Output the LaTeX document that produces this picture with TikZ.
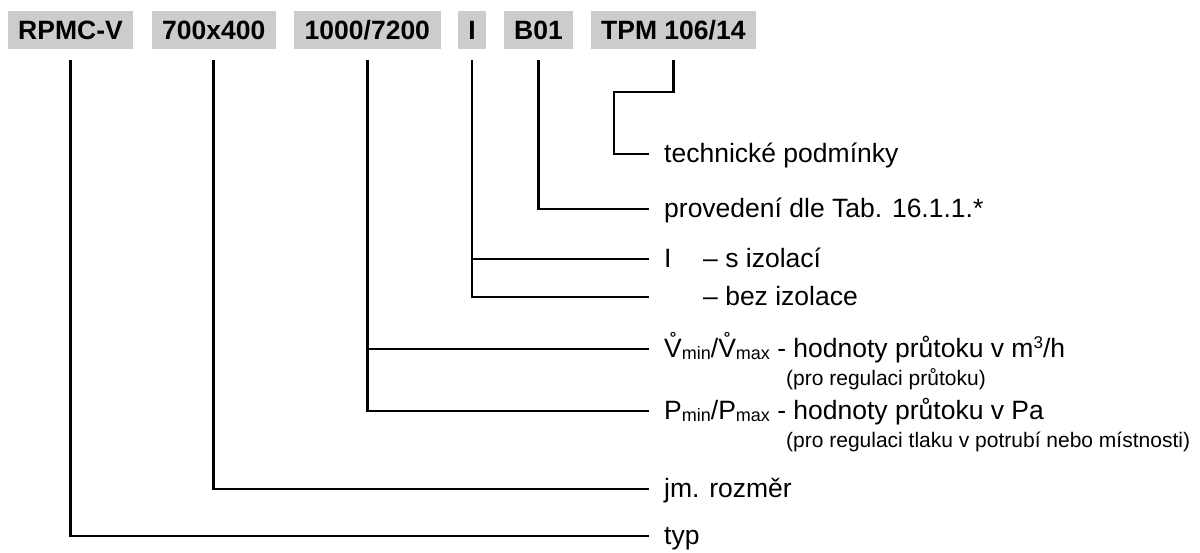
\documentclass[tikz,border=0pt]{standalone}
\usepackage{fontspec}
\setmainfont{Liberation Sans}
\usepackage{xcolor}
\usepackage{tikz}
\usetikzlibrary{positioning}

\definecolor{codegray}{RGB}{204,204,204}
\newcommand{\codefont}{\fontsize{26.5}{30}\selectfont\bfseries}
\newcommand{\descfont}{\fontsize{26.5}{30}\selectfont}
\newcommand{\notefont}{\fontsize{21}{24}\selectfont}
\newcommand{\lowidx}[1]{\raisebox{-2.5pt}{\fontsize{18}{20}\selectfont #1}}
\newcommand{\upidx}[1]{\raisebox{9pt}{\fontsize{17}{20}\selectfont #1}}

\tikzset{
    codebox/.style={fill=codegray, font=\codefont, inner xsep=10.5pt, inner ysep=9.5pt, text height=19pt, text depth=0pt},
    desc/.style={anchor=west, inner sep=0pt, font=\descfont, text height=16pt, text depth=0pt},
    note/.style={anchor=base west, inner sep=0pt, font=\notefont},
    leader/.style={line width=2.5pt, shorten <=11pt, shorten >=15pt}
}

\begin{document}
\begin{tikzpicture}[x=1pt, y=-1pt]
    \useasboundingbox (0,0) rectangle (1200,552);

    % type code
    \node[codebox] (rpmc) at (70.5,30) {RPMC-V};
    \node[codebox, right=18pt of rpmc] (size) {700x400};
    \node[codebox, right=18pt of size] (flow) {1000/7200};
    \node[codebox, right=17pt of flow] (iso) {I};
    \node[codebox, right=17pt of iso] (bnum) {B01};
    \node[codebox, right=17pt of bnum] (tpm) {TPM 106/14};

    % descriptions
    \node[desc] (techn) at (664,154) {technické podmínky};
    \node[desc] (proved) at (664,209) {provedení dle Tab. 16.1.1.*};
    \node[desc] (sizol) at (664,259) {\makebox[39pt][l]{I}– s izolací};
    \node[desc] (bezizol) at (664,297) {\hspace*{39pt}– bez izolace};
    \node[desc] (vmin) at (664,349) {V̊\lowidx{min}/V̊\lowidx{max} - hodnoty průtoku v m\upidx{3}/h};
    \node[note] (vminnote) at (786,385) {(pro regulaci průtoku)};
    \node[desc] (pmin) at (664,411) {P\lowidx{min}/P\lowidx{max} - hodnoty průtoku v Pa};
    \node[note] (pminnote) at (786,447) {(pro regulaci tlaku v potrubí nebo místnosti)};
    \node[desc] (rozmer) at (664,489) {jm. rozměr};
    \node[desc] (typ) at (664,536) {typ};

    % leaders
    \coordinate (tpmbend) at (614,92);
    \draw[leader] (tpm.south) |- (tpmbend) |- (techn.west);
    \draw[leader] (bnum.south) |- (proved.west);
    \draw[leader] (iso.south) |- (bezizol.west);
    \draw[leader, shorten <=0pt] (iso.south |- sizol.west) -- (sizol.west);
    \draw[leader] (flow.south) |- (pmin.west);
    \draw[leader, shorten <=0pt] (flow.south |- vmin.west) -- (vmin.west);
    \draw[leader] (size.south) |- (rozmer.west);
    \draw[leader] (rpmc.south) |- (typ.west);
\end{tikzpicture}
\end{document}
